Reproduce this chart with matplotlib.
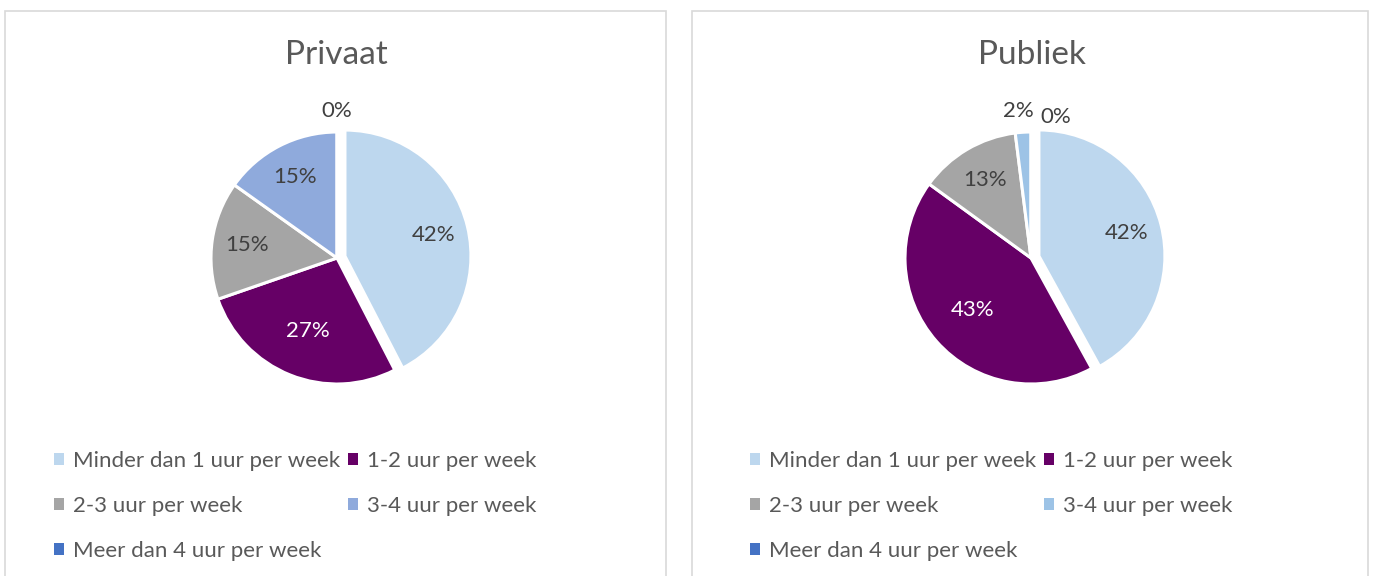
import matplotlib
matplotlib.use("Agg")
import matplotlib.pyplot as plt
from matplotlib.patches import Rectangle, Patch
import numpy as np

plt.rcParams['font.family'] = ['Lato', 'DejaVu Sans']

categories = ["Minder dan 1 uur per week", "1-2 uur per week", "2-3 uur per week",
              "3-4 uur per week", "Meer dan 4 uur per week"]
titles = ["Privaat", "Publiek"]
privaat = [42, 27, 15, 15, 0]
publiek = [42, 43, 13, 2, 0]
colors_privaat = ["#BDD7EE", "#660066", "#A5A5A5", "#8FAADC", "#4472C4"]
colors_publiek = ["#BDD7EE", "#660066", "#A5A5A5", "#9DC3E6", "#4472C4"]

W, H = 1376, 576
fig = plt.figure(figsize=(W / 100, H / 100), dpi=100)
fig.patch.set_facecolor("white")

# panel borders (pixel coords from top-left)
for (x0, x1) in [(5, 666), (692, 1368)]:
    fig.patches.append(Rectangle((x0 / W, -0.02), (x1 - x0) / W, 1 - 11 / H + 0.02,
                                 transform=fig.transFigure, fill=False,
                                 edgecolor="#D9D9D9", lw=1.2))

R = 126  # pie radius px
panels = [
    dict(vals=privaat, cols=colors_privaat, title=titles[0], cx=337, cy=258,
         tx=336, legx=54),
    dict(vals=publiek, cols=colors_publiek, title=titles[1], cx=1031, cy=258,
         tx=1032, legx=750),
]

for p in panels:
    s = 1.6
    ax = fig.add_axes([(p["cx"] - s * R) / W, 1 - (p["cy"] + s * R) / H,
                       2 * s * R / W, 2 * s * R / H])
    explode = [0.065] + [0] * (len(p["vals"]) - 1)
    wedges, _ = ax.pie(p["vals"], colors=p["cols"], startangle=90, counterclock=False,
                       explode=explode, radius=1,
                       wedgeprops=dict(edgecolor="white", linewidth=2.2))
    ax.set_xlim(-s, s)
    ax.set_ylim(-s, s)
    ax.set_aspect("equal")
    ax.axis("off")
    total = sum(p["vals"])
    # labels
    for i, (w, v) in enumerate(zip(wedges, p["vals"])):
        ang = np.deg2rad((w.theta1 + w.theta2) / 2)
        pct = v / total * 100
        off = explode[i]
        if pct < 5:
            d = 1.17
            x, y = d * np.cos(ang), d * np.sin(ang)
            if v == 0 and 0 < p["vals"][i - 1] / total * 100 < 5:
                x += 0.2
                y -= 0.05
            elif v > 0:
                x -= 0.03
        else:
            d = (0.62 if pct > 25 and i > 0 else 0.72) + off
            x, y = d * np.cos(ang), d * np.sin(ang)
        col = "white" if p["cols"][i] == "#660066" else "#404040"
        ax.text(x, y, f"{v}%", ha="center", va="center", fontsize=16, color=col)

    fig.text(p["tx"] / W, 1 - 55 / H, p["title"], ha="center", va="center",
             fontsize=24, color="#595959")

    handles = [Patch(facecolor=c, edgecolor="none") for c in p["cols"]]
    order = [0, 2, 4, 1, 3]
    fig.legend([handles[k] for k in order], [categories[k] for k in order],
               ncol=2, loc="upper left",
               bbox_to_anchor=(p["legx"] / W, 1 - 451 / H),
               frameon=False, fontsize=16, labelcolor="#595959",
               handlelength=0.45, handleheight=0.45, handletextpad=0.4,
               labelspacing=1.13, columnspacing=0.35, borderpad=0, borderaxespad=0)

fig.savefig("out.png", dpi=100, facecolor="white")
